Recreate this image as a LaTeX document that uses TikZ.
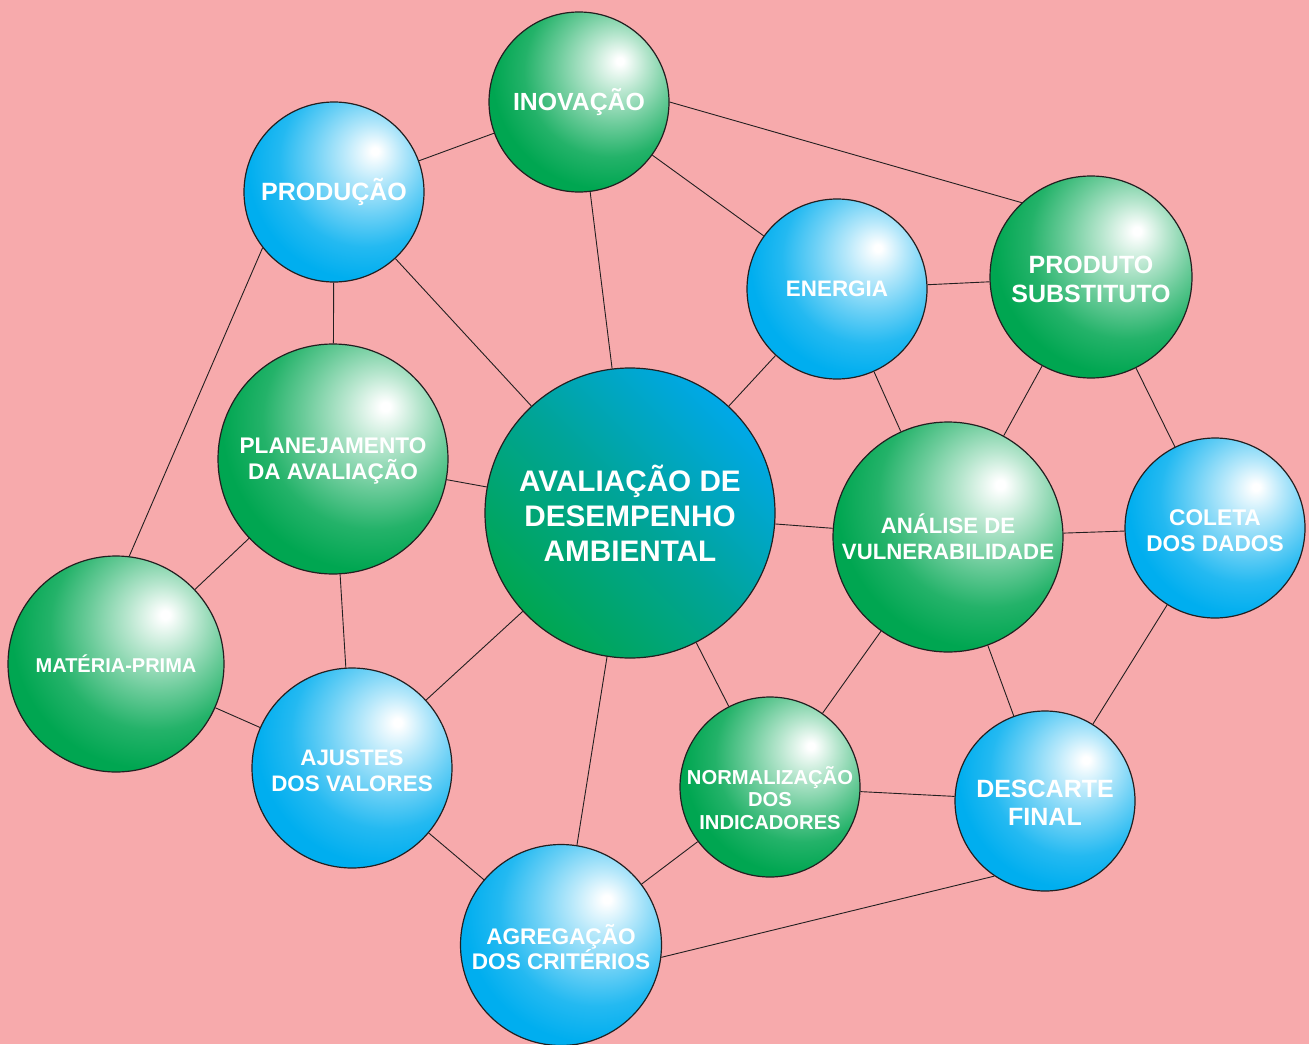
\documentclass[tikz,border=0pt]{standalone}
\usepackage{fontspec}
\setmainfont{Liberation Sans}
\definecolor{bg}{RGB}{247,170,172}
\definecolor{ggreen}{RGB}{0,166,81}
\definecolor{gblue}{RGB}{0,174,239}
\definecolor{cblue}{RGB}{0,168,232}
\definecolor{cteal}{RGB}{0,164,150}
\definecolor{edgecol}{RGB}{35,31,32}
\pgfdeclareradialshading{greenball}{\pgfpoint{11.5bp}{11.5bp}}{color(0bp)=(white); color(1bp)=(white); color(8bp)=(ggreen!28!white); color(16bp)=(ggreen!58!white); color(24bp)=(ggreen!86!white); color(32bp)=(ggreen); color(100bp)=(ggreen)}
\pgfdeclareradialshading{blueball}{\pgfpoint{11.5bp}{11.5bp}}{color(0bp)=(white); color(1bp)=(white); color(8bp)=(gblue!28!white); color(16bp)=(gblue!58!white); color(24bp)=(gblue!86!white); color(32bp)=(gblue); color(100bp)=(gblue)}
\newcommand\bfz[2]{\fontsize{#1}{#2}\selectfont\bfseries}
\begin{document}
\begin{tikzpicture}[x=1pt,y=-1pt,
  ball/.style={circle, draw=edgecol, line width=1.2pt, inner sep=0pt, text=white, align=center},
  gb/.style={ball, shade, shading=greenball},
  bb/.style={ball, shade, shading=blueball},
  lbl/.style={inner sep=0pt, text=white, align=center},
  link/.style={draw=edgecol, line width=0.9pt}]
\useasboundingbox (0,0) rectangle (1309,1044);
\clip (0,0) rectangle (1309,1044);
\fill[bg] (0,0) rectangle (1309,1044);

\node[gb, minimum size=180pt, font=\bfz{24.8}{28}] (inov) at (579,102) {INOVAÇÃO};
\node[bb, minimum size=180pt, font=\bfz{25}{28}] (prod) at (334,192) {PRODUÇÃO};
\node[bb, minimum size=180pt, font=\bfz{22.4}{26}] (ener) at (837,289) {ENERGIA};
\node[gb, minimum size=202pt] (subs) at (1091,277) {};
\node[lbl, font=\bfz{25}{28.5}] (subst) at ([yshift=-2.5pt]subs.center) {PRODUTO\\SUBSTITUTO};
\node[gb, minimum size=230pt] (plan) at (333,459) {};
\node[lbl, font=\bfz{22.6}{26}] (plant) at ([yshift=-1.5pt]plan.center) {PLANEJAMENTO\\DA AVALIAÇÃO};
\node[ball, shade, top color=cblue, bottom color=ggreen, middle color=cteal, shading angle=-45, minimum size=290pt, font=\bfz{29.7}{35}] (aval) at (630,513) {AVALIAÇÃO DE\\DESEMPENHO\\AMBIENTAL};
\node[gb, minimum size=230pt, font=\bfz{22.2}{26}] (anal) at (948,537) {ANÁLISE DE\\VULNERABILIDADE};
\node[bb, minimum size=180pt] (colt) at (1215,528) {};
\node[lbl, font=\bfz{22.7}{25.7}] (coltt) at ([yshift=-2.5pt]colt.center) {COLETA\\DOS DADOS};
\node[gb, minimum size=216pt, font=\bfz{20}{24}] (mate) at (116,664) {MATÉRIA-PRIMA};
\node[bb, minimum size=200pt] (ajus) at (352,768) {};
\node[lbl, font=\bfz{22.4}{26}] (ajust) at ([yshift=-2.5pt]ajus.center) {AJUSTES\\DOS VALORES};
\node[gb, minimum size=180pt] (norm) at (770,787) {};
\node[lbl, font=\bfz{20.2}{22.5}] (normt) at ([yshift=-11pt]norm.center) {NORMALIZAÇÃO\\DOS\\INDICADORES};
\node[bb, minimum size=180pt] (desc) at (1045,801) {};
\node[lbl, font=\bfz{25}{28}] (desct) at ([yshift=-2pt]desc.center) {DESCARTE\\FINAL};
\node[bb, minimum size=201pt] (agre) at (561,945) {};
\node[lbl, font=\bfz{22.6}{25}] (agret) at ([yshift=-2pt]agre.center) {AGREGAÇÃO\\DOS CRITÉRIOS};

\draw[link] (prod) -- (inov);
\draw[link] (inov.0) -- (subs.133);
\draw[link] (inov) -- (ener);
\draw[link] (inov) -- (aval);
\draw[link] (prod) -- (aval);
\draw[link] (prod) -- (plan);
\draw[link] (prod.218) -- (mate.83);
\draw[link] (ener) -- (subs);
\draw[link] (ener) -- (aval);
\draw[link] (ener) -- (anal);
\draw[link] (subs) -- (anal);
\draw[link] (subs) -- (colt);
\draw[link] (plan) -- (aval);
\draw[link] (plan) -- (mate);
\draw[link] (plan) -- (ajus);
\draw[link] (aval) -- (anal);
\draw[link] (aval) -- (ajus);
\draw[link] (aval) -- (agre);
\draw[link] (aval) -- (norm);
\draw[link] (anal) -- (colt);
\draw[link] (anal) -- (norm);
\draw[link] (anal) -- (desc);
\draw[link] (colt) -- (desc);
\draw[link] (mate) -- (ajus);
\draw[link] (ajus) -- (agre);
\draw[link] (norm) -- (desc);
\draw[link] (norm) -- (agre);
\draw[link] (desc.236) -- (agre.-7);
\end{tikzpicture}
\end{document}
